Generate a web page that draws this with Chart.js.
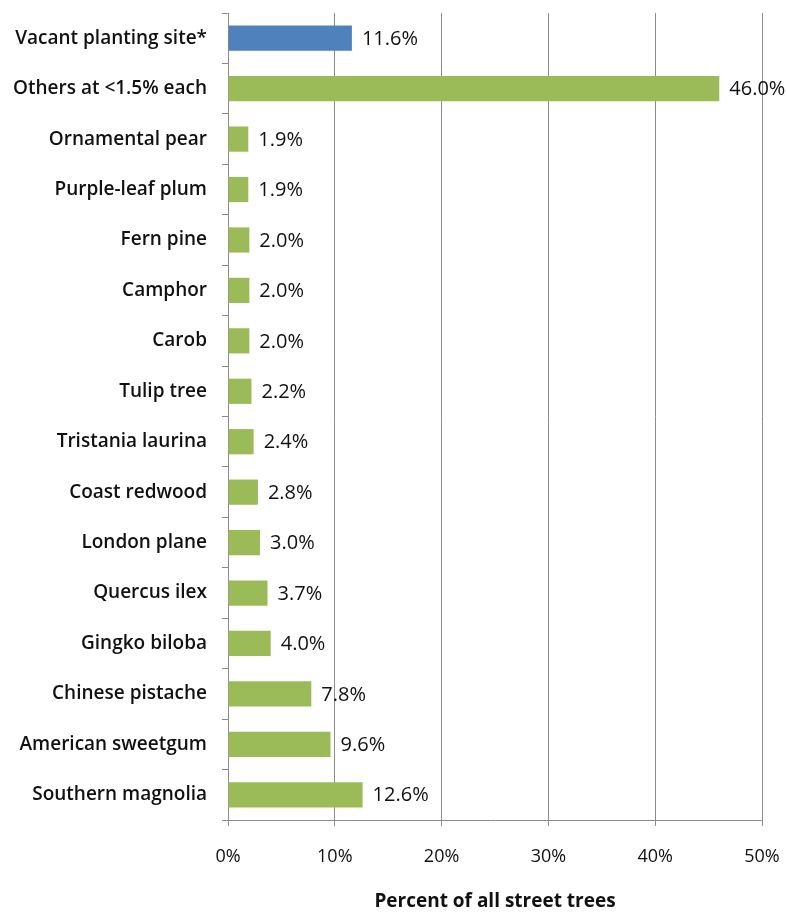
<!DOCTYPE html>
<html>
<head>
<meta charset="utf-8">
<script src="https://cdn.jsdelivr.net/npm/chart.js@4/dist/chart.umd.min.js"></script>
<style>
  html, body { margin: 0; padding: 0; background: #fff; }
  #wrap { width: 787px; height: 913px; }
</style>
</head>
<body>
<div id="wrap"><canvas id="c" width="787" height="913"></canvas></div>
<script>
// Street tree species, share of all street trees (%)
const categories = [
  'Vacant planting site*', 'Others at <1.5% each', 'Ornamental pear', 'Purple-leaf plum',
  'Fern pine', 'Camphor', 'Carob', 'Tulip tree', 'Tristania laurina', 'Coast redwood',
  'London plane', 'Quercus ilex', 'Gingko biloba', 'Chinese pistache',
  'American sweetgum', 'Southern magnolia'
];
const shares = [11.6, 46.0, 1.9, 1.9, 2.0, 2.0, 2.0, 2.2, 2.4, 2.8, 3.0, 3.7, 4.0, 7.8, 9.6, 12.6];
const xTicks = [0, 10, 20, 30, 40, 50];

const BLUE = '#4f81bd';
const GREEN = '#9bbb59';
const FONT = '"Open Sans", Lato, sans-serif';

// Value labels just past the end of each bar
const valueLabels = {
  id: 'valueLabels',
  afterDatasetsDraw(chart) {
    const ctx = chart.ctx;
    const meta = chart.getDatasetMeta(0);
    ctx.save();
    ctx.font = '20px ' + FONT;
    ctx.fillStyle = '#111';
    ctx.textAlign = 'left';
    ctx.textBaseline = 'middle';
    meta.data.forEach((bar, i) => {
      ctx.fillText(shares[i].toFixed(1) + '%', bar.x + 10, bar.y + 1);
    });
    ctx.restore();
  }
};

new Chart(document.getElementById('c'), {
  type: 'bar',
  data: {
    labels: categories,
    datasets: [{
      data: shares,
      backgroundColor: categories.map((c, i) => i === 0 ? BLUE : GREEN),
      borderWidth: 0,
      categoryPercentage: 1,
      barPercentage: 0.5
    }]
  },
  options: {
    indexAxis: 'y',
    responsive: false,
    animation: false,
    layout: { padding: { top: 13, right: 25, left: 0, bottom: 0 } },
    plugins: {
      legend: { display: false },
      tooltip: { enabled: false }
    },
    scales: {
      x: {
        min: 0,
        max: 50,
        afterBuildTicks(scale) { scale.ticks = xTicks.map(v => ({ value: v })); },
        afterFit(scale) {
          scale.height = 93;
          scale.paddingLeft = 0;
          scale.paddingRight = 0;
        },
        grid: { color: '#8c8c8c', lineWidth: 1, tickLength: 6, drawTicks: true },
        border: { color: '#8c8c8c', width: 1 },
        ticks: {
          padding: 20,
          color: '#111',
          font: { family: FONT, size: 18 },
          callback: v => v + '%',
          maxRotation: 0
        },
        title: {
          display: true,
          text: 'Percent of all street trees',
          color: '#111',
          font: { family: FONT, size: 19, weight: 'bold' },
          padding: { top: 0, bottom: 0 }
        }
      },
      y: {
        offset: true,
        afterFit(scale) {
          scale.width = 228;
          scale.paddingTop = 0;
          scale.paddingBottom = 0;
        },
        grid: { offset: true, drawOnChartArea: false, color: '#8c8c8c', tickLength: 6 },
        border: { color: '#8c8c8c', width: 1 },
        ticks: {
          padding: 15,
          color: '#111',
          font: { family: FONT, size: 19, weight: '600' },
          autoSkip: false
        }
      }
    }
  },
  plugins: [valueLabels]
});
</script>
</body>
</html>
